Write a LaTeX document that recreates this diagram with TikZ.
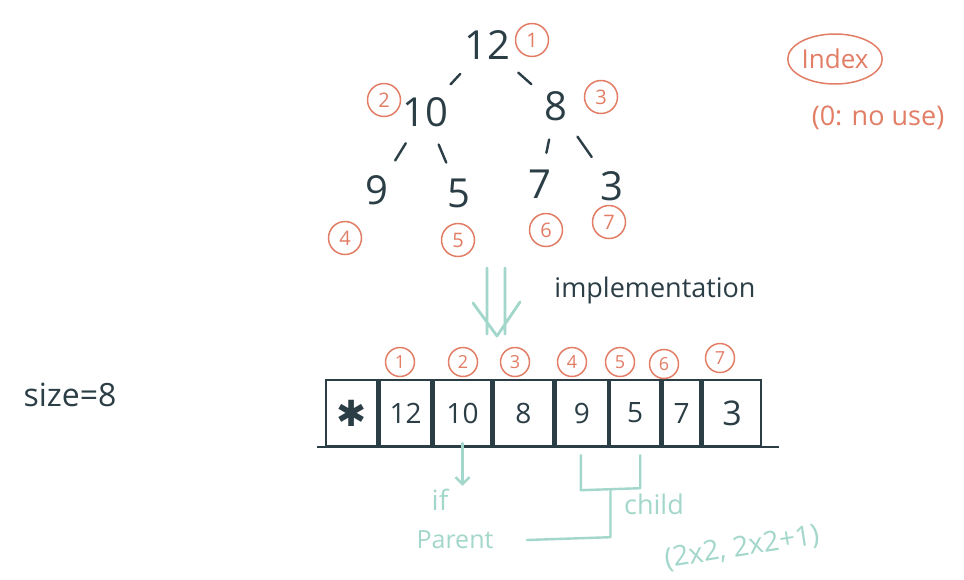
\documentclass[tikz,border=0pt]{standalone}
\usepackage{fontspec}
\setmainfont{Open Sans}
\newfontfamily\djv{DejaVu Sans}
\usetikzlibrary{arrows.meta,calc,shapes.geometric}
\definecolor{ink}{HTML}{2B3E46}
\definecolor{idx}{HTML}{E27D66}
\definecolor{tl}{HTML}{A3D7CB}
\begin{document}
\begin{tikzpicture}[x=1pt,y=-1pt,
  val/.style={text=ink,inner sep=1pt,font=\fontsize{40}{40}\selectfont},
  num/.style={circle,draw=idx,line width=1.5pt,text=idx,inner sep=0pt,minimum size=33pt,font=\fontsize{20}{20}\selectfont},
  snum/.style={num,minimum size=29pt,font=\fontsize{18}{18}\selectfont},
  tedge/.style={draw=ink,line width=2.4pt,line cap=round,shorten <=18pt,shorten >=16pt},
  cell/.style={draw=ink,line width=2.4pt,minimum height=66pt,text=ink,anchor=west,inner sep=0pt,font=\fontsize{28}{28}\selectfont},
  note/.style={text=tl,font=\fontsize{25}{25}\selectfont},
  tline/.style={draw=tl,line width=2.4pt,line cap=round,line join=round}]
\useasboundingbox[fill=white] (0,0) rectangle (964,579);

% tree
\node[val] (n12) at (487,45) {12};
\node[val] (n10) at (425,112) {10};
\node[val] (n8) at (556,106) {8};
\node[val] (n9) at (377,190) {9};
\node[val] (n5) at (459,193) {5};
\node[val] (n7) at (540,184) {7};
\node[val] (n3) at (612,186) {3};
\draw[tedge] (n12) -- (n10);
\draw[tedge] (n12) -- (n8);
\draw[tedge] (n10) -- (n9);
\draw[tedge] (n10) -- (n5);
\draw[tedge] (n8) -- (n7);
\draw[tedge] (n8) -- (n3);
\node[num] (i1) at (532,40) {1};
\node[num] (i2) at (384,100) {2};
\node[num] (i3) at (601,97) {3};
\node[num] (i4) at (345,238) {4};
\node[num] (i5) at (458,240) {5};
\node[num] (i6) at (546,230) {6};
\node[num] (i7) at (609,222) {7};

% legend
\node[ellipse,draw=idx,line width=1.5pt,text=idx,minimum width=90pt,minimum height=50pt,inner sep=0pt,font=\fontsize{26}{26}\selectfont] (ix) at (835,59) {Index};
\node[text=idx,font=\fontsize{27}{27}\selectfont] (nu) at (878,118) {(0: no use)};

% implementation arrow
\coordinate (al) at (487,268);
\coordinate (ar) at (505,268);
\coordinate (tip) at (497,336);
\draw[tline,line width=2.8pt] (al) -- ++(0,66) (ar) -- ++(0,66) (473,303) -- (tip) -- (520,302);
\node[text=ink,font=\fontsize{27}{27}\selectfont] (impl) at (655,290) {implementation};

% array
\node[cell,minimum width=51pt] (c0) at (325,413) {\djv\fontsize{36}{36}\selectfont ✱};
\node[cell,minimum width=52pt] (c1) at (c0.east) {12};
\node[cell,minimum width=57pt] (c2) at (c1.east) {10};
\node[cell,minimum width=60pt] (c3) at (c2.east) {8};
\node[cell,minimum width=52pt] (c4) at (c3.east) {9};
\node[cell,minimum width=50pt] (c5) at (c4.east) {5};
\node[cell,minimum width=38pt] (c6) at (c5.east) {7};
\node[cell,minimum width=58pt,font=\fontsize{34}{34}\selectfont] (c7) at (c6.east) {3};
\draw[draw=ink,line width=2.4pt] ($(c0.south west)+(-8,0)$) -- ($(c7.south east)+(17,0)$);
\node[snum] (a1) at (400,362) {1};
\node[snum] (a2) at (463,362) {2};
\node[snum] (a3) at (515,362) {3};
\node[snum] (a4) at (572,362) {4};
\node[snum] (a5) at (620,362) {5};
\node[snum] (a6) at (664,364) {6};
\node[snum] (a7) at (720,358) {7};

\node[text=ink,font=\fontsize{32}{32}\selectfont] (size) at (70,395) {size=8};

% notes
\node[note,font=\fontsize{28}{28}\selectfont] (if) at (440,500) {if};
\node[note] (par) at (455,540) {Parent};
\node[note,font=\fontsize{27}{27}\selectfont] (ch) at (654,504) {child};
\node[note,rotate=9,font=\fontsize{28}{28}\selectfont] (form) at (742,548) {(2x2, 2x2+1)};
\coordinate (pa) at ($(c2.south)+(0,-4)$);
\draw[tline,-{Straight Barb[length=7pt,width=14pt]}] (pa) -- (pa |- if.north);
\coordinate (b1) at ($(c4.south)+(-1,8)$);
\coordinate (b2) at ($(c5.south)+(5,8)$);
\draw[tline] (b1) -- ++(0,35) coordinate (bj) -- ($(b2)+(0,33)$) -- (b2);
\draw[tline] ($(bj)!0.5!($(b2)+(0,33)$)$) -- ++(0,48) coordinate (bs) -- ($(par.east)+(30,0)$);
\end{tikzpicture}
\end{document}
